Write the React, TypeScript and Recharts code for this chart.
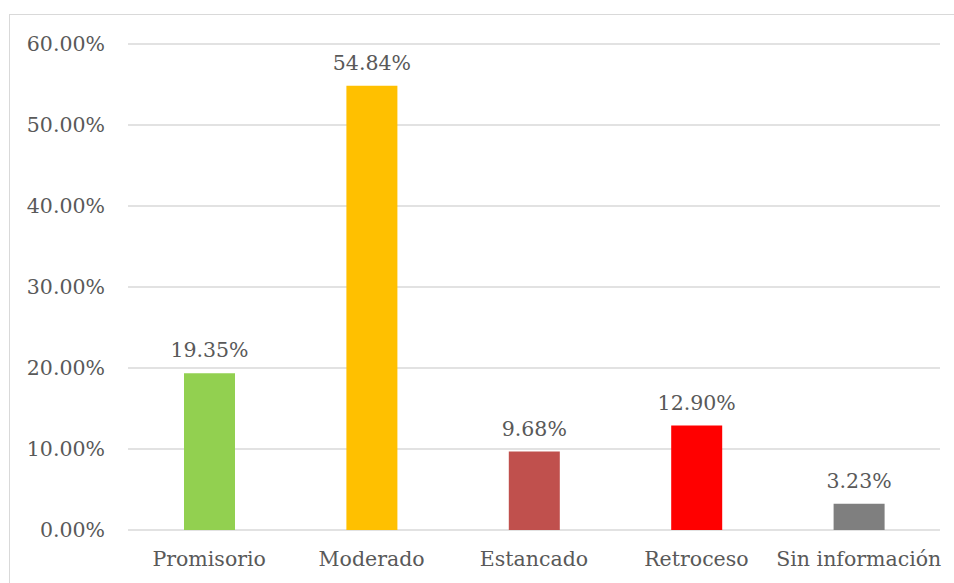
import { Bar, BarChart, CartesianGrid, Cell, LabelList, XAxis, YAxis } from "recharts";

const categories = ["Promisorio", "Moderado", "Estancado", "Retroceso", "Sin información"];
const shares = [0.1935, 0.5484, 0.0968, 0.129, 0.0323];
const barColors = ["#92D050", "#FFC000", "#C0504D", "#FF0000", "#7F7F7F"];
const yTicks = [0, 0.1, 0.2, 0.3, 0.4, 0.5, 0.6];

const data = categories.map((name, i) => ({ name, value: shares[i] }));

const pct = (v: number) => `${(v * 100).toFixed(2)}%`;

const font = "DejaVu Serif";
const fontSize = 20.5;
const textColor = "#595959";
const textStyle = { fill: textColor, fontSize, fontFamily: font };

const App = () => (
  <div style={ { position: "absolute", left: 0, top: 0, width: 954, height: 583, overflow: "hidden", background: "#fff", fontFamily: font } }>
    <div style={ { position: "absolute", left: 9, top: 14, width: 980, height: 620, border: "1.5px solid #d9d9d9" } }/>
    <BarChart
      width={ 954 }
      height={ 583 }
      data={ data }
      barSize={ 51 }
      margin={ { top: 44, right: 14, bottom: 0, left: 0 } }
      style={ { position: "absolute", left: 0, top: 0, fontFamily: font } }
    >
      <CartesianGrid vertical={ false } stroke="#d9d9d9" strokeWidth={ 1.3 }/>
      <XAxis
        dataKey="name"
        height={ 53 }
        axisLine={ false }
        tickLine={ false }
        tickSize={ 0 }
        tickMargin={ 21 }
        interval={ 0 }
        tick={ { ...textStyle, style: { fontFamily: font } } }
      />
      <YAxis
        width={ 128 }
        domain={ [0, 0.6] }
        ticks={ yTicks }
        tickFormatter={ pct }
        axisLine={ false }
        tickLine={ false }
        tickSize={ 0 }
        tickMargin={ 23 }
        tick={ { ...textStyle, style: { fontFamily: font } } }
      />
      <Bar dataKey="value" isAnimationActive={ false }>
        { data.map((d, i) => <Cell key={ d.name } fill={ barColors[i] }/>) }
        <LabelList
          dataKey="value"
          position="top"
          offset={ 16 }
          formatter={ (v: any) => pct(Number(v)) }
          style={ textStyle }
        />
      </Bar>
    </BarChart>
  </div>
);

export default App;
